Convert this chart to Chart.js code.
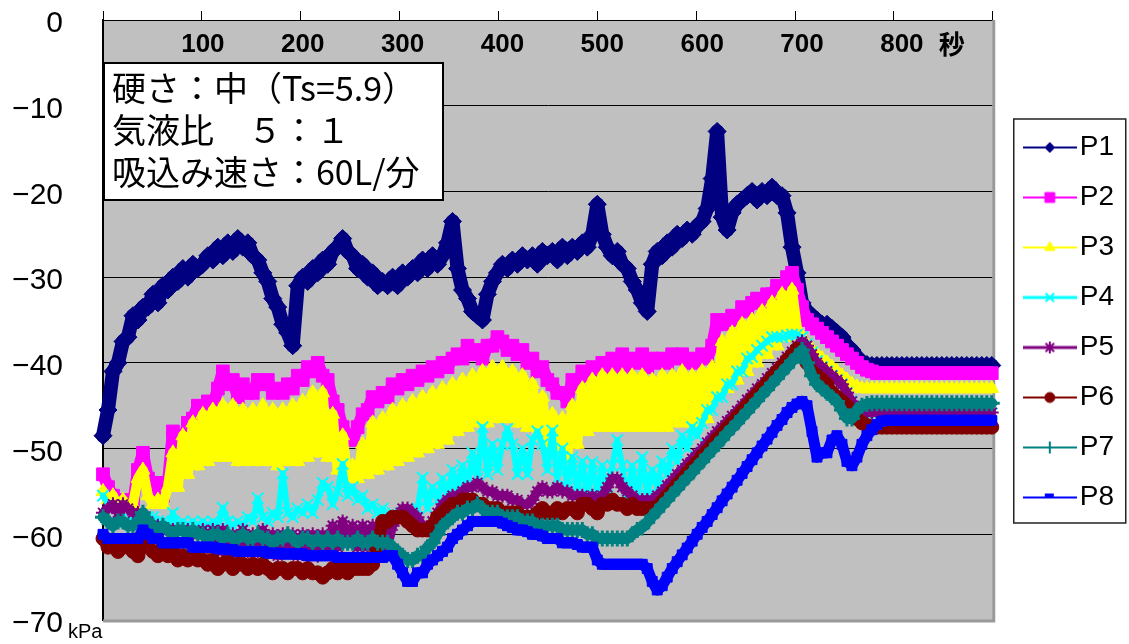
<!DOCTYPE html>
<html>
<head>
<meta charset="utf-8">
<title>吸込み試験 圧力変化</title>
<script src="https://cdn.jsdelivr.net/npm/chart.js"></script>
<style>
    body { margin: 0; background: #fff; }
    #wrap { width: 1129px; height: 644px; }
</style>
</head>
<body>
<div id="wrap"><canvas id="pressureChart" width="1129" height="644"></canvas></div>
<script>
// sample times in seconds (one reading every 5 s)
const secs = [];
for (let t = 0; t <= 890; t += 5) secs.push(t);

// pressures in kPa
const p1 = [
    -48.5, -45.5, -41, -40, -37.5, -37, -34.5, -35, -33.5, -33.5,
    -32, -33, -31, -31.5, -30, -30.5, -29, -30, -28.5, -29,
    -28.5, -27.5, -28, -26.5, -27.5, -26, -27, -25.5, -26.5, -26,
    -27.5, -28, -29.5, -30.5, -32.5, -33.5, -35.5, -36.5, -38, -31,
    -30, -30.5, -29, -29.5, -28, -28.5, -27, -26.5, -25.5, -27,
    -27.5, -29, -28.5, -30, -29.5, -31, -30.5, -31, -30, -31,
    -29.5, -30, -29, -29.5, -28, -29, -27.5, -28.5, -27.5, -26,
    -23.5, -29, -31.5, -32.5, -34, -34.5, -35, -32, -30.5, -29.5,
    -28.5, -29, -28, -28.5, -27.5, -28, -27.5, -28.5, -27, -27.5,
    -27, -28, -26.5, -27.5, -26.5, -27, -26, -26.5, -25, -21.5,
    -25, -26.5, -27.5, -27, -28.5, -29, -30.5, -31.5, -33, -34,
    -28.5, -27, -27.5, -26, -26.5, -25, -25.5, -24.5, -25, -24,
    -23.5, -22, -18.5, -13, -23, -24.5, -22.5, -21.5, -21, -20.5,
    -20, -21, -20, -20.5, -19.5, -20.5, -20.5, -22.5, -26.5, -29.5,
    -33, -34, -34.5, -35, -35.5, -35.5, -36, -36.5, -37, -38,
    -38.5, -39.3, -39.9, -40.2, -40.3, -40.3, -40.3, -40.3, -40.3, -40.3,
    -40.3, -40.3, -40.3, -40.3, -40.3, -40.3, -40.3, -40.3, -40.3, -40.3,
    -40.3, -40.3, -40.3, -40.3, -40.3, -40.3, -40.3, -40.3, -40.3
];
const p2 = [
    -53, -54.5, -55.5, -56, -57, -56, -56.5, -52.5, -50.5, -53.5,
    -55.5, -54, -55.5, -54, -48, -48.5, -49.5, -47, -46.5, -45,
    -45.5, -44.5, -45, -43, -41, -42.5, -42, -44, -42.5, -43.5,
    -43.5, -42, -42.5, -42, -43.5, -43, -43.5, -42.5, -43, -41.5,
    -42, -40.5, -41, -40, -41.5, -42, -44.5, -45.5, -47.5, -48.5,
    -49, -47.5, -46, -45.5, -44, -44.5, -43.5, -44, -42.5, -43,
    -42, -42.5, -41.5, -42, -41, -41.5, -40.5, -41, -40, -40.5,
    -39.5, -39, -39.5, -38, -39, -38.5, -39.5, -38, -38, -37,
    -37.5, -38.5, -38, -39, -38.5, -40, -39.5, -41, -40.5, -42,
    -42.5, -43.5, -43.5, -44.5, -42, -42.5, -41, -41.5, -40.5, -41,
    -40, -40.5, -39.5, -40.5, -39, -40.5, -39.5, -40, -39, -40.5,
    -39.5, -40, -39.5, -40, -39, -39.5, -39, -40, -39.5, -40,
    -39, -39.5, -38, -35, -35.5, -35, -34.5, -35, -33.5, -34,
    -33, -32.5, -33, -32, -32, -31, -31.5, -30, -29.5, -31.5,
    -33.5, -35, -35.5, -36, -36.5, -37, -37.5, -38, -38.5, -39,
    -39.5, -40, -40.5, -40.8, -41, -41.2, -41.2, -41.2, -41.2, -41.2,
    -41.2, -41.2, -41.2, -41.2, -41.2, -41.2, -41.2, -41.2, -41.2, -41.2,
    -41.2, -41.2, -41.2, -41.2, -41.2, -41.2, -41.2, -41.2, -41.2
];
const p3 = [
    -55, -56, -55.5, -57, -56, -57, -56.5, -53.5, -52.5, -55.5,
    -56.5, -56, -56.5, -54.5, -50.5, -54.5, -48.5, -53, -47, -52,
    -46, -51.5, -45.5, -51, -45, -51, -45, -51.5, -45.5, -51.5,
    -45.5, -51.5, -45, -51.5, -45.5, -52, -45.5, -51.5, -45, -51.5,
    -44.5, -51, -43.5, -50.5, -43.5, -51, -46, -52.5, -48.5, -53.5,
    -52, -53.5, -49.5, -53, -47, -52.5, -46.5, -52, -45.5, -51.5,
    -45, -51, -44.5, -50.5, -44, -50, -43.5, -49.5, -43, -49,
    -42.5, -48, -42, -47.5, -41.5, -47, -41, -47, -40.5, -46.5,
    -40.5, -46.5, -41, -47, -41.5, -47.5, -42.5, -48.5, -44, -49.5,
    -46, -50.5, -46.5, -51, -45, -49.5, -43, -48, -42, -47.5,
    -41.5, -47.5, -41.5, -47.5, -41.5, -47.5, -41.5, -47.5, -41.5, -47.5,
    -42, -47.5, -41.5, -47.5, -41.5, -47, -41, -47, -41.5, -47,
    -41, -46.5, -40.5, -43.5, -37.5, -43, -36.5, -42, -35.5, -41,
    -35, -40, -34, -39, -33, -38, -32, -37, -31.5, -36,
    -37, -38, -38.5, -39, -39.5, -40, -40.5, -41, -41.5, -42,
    -42.5, -42.8, -43, -43, -43, -43, -43, -43, -43, -43,
    -43, -43, -43, -43, -43, -43, -43, -43, -43, -43,
    -43, -43, -43, -43, -43, -43, -43, -43, -43
];
const p4 = [
    -55.5, -56.5, -57, -57.5, -58, -58.5, -58, -58.5, -58, -58,
    -58, -58.5, -58.5, -59, -57.5, -59, -58.5, -59, -58.5, -59,
    -58.5, -59, -58.5, -59, -56.9, -58.5, -59, -58.5, -59, -58,
    -58.5, -55.8, -58, -58.5, -57.5, -58, -52.9, -57.5, -58, -57,
    -57.5, -56.5, -57.5, -56, -54, -54.5, -56.5, -55, -51.8, -55.5,
    -54.5, -56, -55.5, -57, -56.5, -57.5, -57, -58, -57.5, -58,
    -57.5, -58, -57.5, -57, -53.4, -57, -54.5, -56, -53.5, -55.5,
    -52.5, -55, -52, -54.5, -50.5, -53.5, -47.5, -53, -49.5, -52.5,
    -49.5, -47.7, -49.5, -53, -50, -53, -49, -48, -49.5, -52.5,
    -47.9, -53.5, -50, -54.5, -51, -55, -51.5, -55.5, -51.6, -55.5,
    -52, -55.5, -52, -49, -52, -56, -52, -56, -51, -55.5,
    -52.5, -54.5, -51.5, -53, -50, -51.5, -48.5, -50, -47.5, -48.5,
    -47, -45.5, -45.5, -44, -44, -42.5, -42.5, -41, -41, -39.5,
    -39.3, -38.5, -38, -37.5, -37, -37, -37, -36.8, -36.7, -36.7,
    -37, -37.8, -38.8, -39.8, -40.5, -41, -41.5, -42, -42.5, -43.5,
    -44.5, -45.3, -45.8, -45.9, -45.9, -45.9, -45.9, -45.9, -45.9, -45.9,
    -45.9, -45.9, -45.9, -45.9, -45.9, -45.9, -45.9, -45.9, -45.9, -45.9,
    -45.9, -45.9, -45.9, -45.9, -45.9, -45.9, -45.9, -45.9, -45.9
];
const p5 = [
    -57.5, -57, -56.5, -57.5, -56.5, -57, -57.5, -57.5, -58, -58.5,
    -59, -59, -59.5, -59.5, -59.5, -59.5, -59.5, -59.5, -60, -60,
    -59.5, -61.5, -59.5, -62, -59.5, -61.5, -60, -62, -59.5, -62,
    -60, -62, -59.5, -62, -60, -62.5, -60, -62, -60, -62.5,
    -60, -62.5, -60, -62.5, -60, -62, -59, -61.5, -58.5, -61,
    -59, -61.5, -59, -61.5, -59, -61.5, -59.5, -61.5, -59, -58,
    -57, -57, -57.5, -58, -59, -59.5, -58.5, -57.5, -56.5, -56,
    -55.5, -55.5, -55, -54.5, -54.5, -54, -54.5, -55, -55, -55.5,
    -55.5, -55.5, -56, -56, -56.5, -56.5, -56, -55, -54.5, -55,
    -55, -54.5, -55, -55, -55.5, -55.5, -55.5, -56, -55.5, -56,
    -55.5, -54.5, -53.5, -53.5, -54.5, -55, -55.5, -56, -56, -56,
    -56, -55.5, -55, -54.3, -53.7, -53, -52.5, -51.8, -51.2, -50.6,
    -50, -49.3, -48.7, -48, -47.5, -46.8, -46.2, -45.6, -45, -44.3,
    -43.7, -43, -42.5, -41.8, -41.2, -40.6, -40, -39.3, -38.7, -38,
    -37.5, -38, -39, -40, -40.5, -41, -41.5, -42, -42.5, -43.5,
    -44.5, -45.3, -45.7, -45.8, -45.8, -45.8, -45.8, -45.8, -45.8, -45.8,
    -45.8, -45.8, -45.8, -45.8, -45.8, -45.8, -45.8, -45.8, -45.8, -45.8,
    -45.8, -45.8, -45.8, -45.8, -45.8, -45.8, -45.8, -45.8, -45.8
];
const p6 = [
    -60.5, -61.5, -61, -62, -61.5, -61, -62, -62.5, -61, -61.5,
    -62, -62.5, -61.5, -62.5, -62, -63, -62.5, -63, -62.5, -63,
    -63, -63.5, -63, -64, -63.5, -63, -64, -63.5, -63.5, -64,
    -63.5, -64, -63.5, -64, -64.5, -64, -64, -64.5, -64, -64,
    -64.5, -64, -64.5, -64.5, -65, -64.5, -64, -64.5, -64, -64.5,
    -64, -64, -64, -64, -63.5, -61, -58.5, -58.5, -58, -58,
    -58, -58.5, -59, -59.5, -59.5, -59.5, -59, -58, -57.5, -57,
    -56.5, -56.5, -56, -56, -56, -56.5, -56.5, -57, -57, -57,
    -57.5, -57.5, -57.5, -57.5, -58, -58, -58, -57.5, -57, -57.5,
    -57.5, -57, -57.5, -57, -57, -57.5, -56.5, -56.5, -57, -57.5,
    -56.5, -56.5, -56, -56.5, -56.5, -57, -56.5, -57, -57, -57,
    -57, -56.8, -56.2, -55.5, -54.9, -54.2, -53.6, -52.9, -52.2, -51.6,
    -50.9, -50.3, -49.6, -48.9, -48.3, -47.6, -47, -46.3, -45.7, -45,
    -44.3, -43.7, -43, -42.4, -41.7, -41, -40.4, -39.7, -39.1, -38.4,
    -39, -40, -41, -41.5, -42, -42.5, -43.5, -44, -44.5, -45,
    -46, -46.5, -47, -47.3, -47.5, -47.5, -47.5, -47.5, -47.5, -47.5,
    -47.5, -47.5, -47.5, -47.5, -47.5, -47.5, -47.5, -47.5, -47.5, -47.5,
    -47.5, -47.5, -47.5, -47.5, -47.5, -47.5, -47.5, -47.5, -47.5
];
const p7 = [
    -58, -58.5, -59, -58.5, -58.5, -59, -59, -58.5, -57.5, -58.5,
    -59, -59.5, -59, -59.5, -60, -59.5, -59.5, -60, -59.5, -60,
    -60, -60.5, -60, -60, -60.5, -60, -60.5, -60.5, -60, -60.5,
    -60.5, -60, -60.5, -60.5, -61, -60.5, -60.5, -60, -60.5, -61,
    -60.5, -60.5, -61, -60.5, -61, -60.5, -61, -60.5, -61, -61,
    -61, -60.5, -61, -61, -60.5, -61, -61, -61, -61.5, -62,
    -62.5, -63, -63, -62.5, -62.5, -61.5, -61, -60, -59, -58.5,
    -58, -57.5, -57.5, -57, -57, -56.5, -57, -57.5, -57.5, -57.5,
    -58, -58, -58, -58, -58.5, -58.5, -58.5, -59, -59, -59,
    -59, -59, -59.5, -59.5, -59.5, -59.5, -59.5, -60, -60, -60.5,
    -60.5, -60.5, -60.5, -60.5, -60.5, -60.5, -60, -59.5, -59.2, -58.6,
    -57.9, -57.3, -56.6, -56, -55.3, -54.7, -54, -53.4, -52.8, -52.1,
    -51.5, -50.8, -50.2, -49.5, -48.9, -48.2, -47.6, -47, -46.3, -45.7,
    -45, -44.4, -43.7, -43.1, -42.4, -41.8, -41.1, -40.5, -39.8, -39.2,
    -38.5, -40, -41.5, -42.5, -43, -43.5, -44, -44.5, -45.5, -46.5,
    -46.5, -45.5, -45, -44.8, -44.7, -44.7, -44.7, -44.7, -44.7, -44.7,
    -44.7, -44.7, -44.7, -44.7, -44.7, -44.7, -44.7, -44.7, -44.7, -44.7,
    -44.7, -44.7, -44.7, -44.7, -44.7, -44.7, -44.7, -44.7, -44.7
];
const p8 = [
    -60, -60.5, -60.5, -60.5, -60.5, -60.5, -60.5, -60.5, -59.5, -60,
    -60.5, -60.5, -61, -61, -61, -61, -61, -61, -61.5, -61.5,
    -61.5, -61.5, -61.5, -61.7, -61.7, -61.8, -61.8, -62, -62, -62,
    -62, -62, -62, -62.2, -62.2, -62.2, -62.3, -62.3, -62.3, -62.3,
    -62.3, -62.5, -62.5, -62.5, -62.5, -62.5, -62.5, -62.7, -62.7, -62.7,
    -62.7, -62.7, -62.7, -62.7, -62.7, -62.7, -62.7, -62.5, -62.5, -63.5,
    -64.5, -65.5, -65.5, -64.5, -64.5, -63.5, -63, -62.5, -62, -61.5,
    -60.5, -60, -59.5, -59, -58.5, -58.5, -58.5, -58.5, -58.5, -58.5,
    -58.7, -59, -59.2, -59.5, -59.5, -59.7, -60, -60, -60.2, -60.5,
    -60.5, -60.5, -61, -61, -61, -61.2, -61.5, -61.5, -61.5, -63,
    -63.5, -63.5, -63.5, -63.5, -63.5, -63.5, -63.5, -63.5, -63.5, -64,
    -65.5, -66.5, -66, -65, -64, -63.2, -62.4, -61.6, -60.8, -60,
    -59.2, -58.5, -57.7, -56.9, -56.1, -55.3, -54.5, -53.7, -52.9, -52.1,
    -51.3, -50.5, -49.7, -48.9, -48.1, -47.3, -46.6, -45.8, -45.2, -44.8,
    -44.5, -45, -48, -51, -50.5, -50.5, -49, -48.5, -49.5, -51.5,
    -52, -51, -49.5, -48.5, -47.8, -47.2, -46.8, -46.7, -46.7, -46.7,
    -46.7, -46.7, -46.7, -46.7, -46.7, -46.7, -46.7, -46.7, -46.7, -46.7,
    -46.7, -46.7, -46.7, -46.7, -46.7, -46.7, -46.7, -46.7, -46.7
];

const seriesNames = ['P1', 'P2', 'P3', 'P4', 'P5', 'P6', 'P7', 'P8'];
const seriesValues = [p1, p2, p3, p4, p5, p6, p7, p8];
const xTickLabels = [100, 200, 300, 400, 500, 600, 700, 800];
const yTickValues = [0, -10, -20, -30, -40, -50, -60, -70];

// Excel-like colours and marker styles
const colors = ['#000080', '#ff00ff', '#ffff00', '#00ffff', '#800080', '#800000', '#008080', '#0000ff'];
const markers = [
    { style: 'rectRot', r: 9, bw: 1, lw: 14, lr: 5, lbw: 1 },
    { style: 'rect', r: 9, bw: 1, lw: 12, lr: 7, lbw: 1 },
    { style: 'triangle', r: 8, bw: 1, lw: 10, lr: 6, lbw: 1 },
    { style: 'crossRot', r: 8, bw: 2, lw: 6, lr: 6, lbw: 2 },
    { style: 'star', r: 7, bw: 2, lw: 9, lr: 6, lbw: 2 },
    { style: 'circle', r: 7, bw: 1, lw: 12, lr: 5, lbw: 1 },
    { style: 'cross', r: 8, bw: 3, lw: 11, lr: 6, lbw: 2 },
    { style: 'rect', r: 7, bw: 1, lw: 11, lr: 0, lbw: 1 }
];

// little line+marker pictures for the legend
function legendIcon(i) {
    const c = document.createElement('canvas');
    c.width = 54; c.height = 24;
    const g = c.getContext('2d');
    g.strokeStyle = colors[i];
    g.fillStyle = colors[i];
    g.lineWidth = (i === 3 || i === 4) ? 3 : 2;
    g.beginPath(); g.moveTo(0, 12); g.lineTo(54, 12); g.stroke();
    if (i === 7) {
        g.fillRect(22, 8, 9, 4);
    } else {
        g.lineWidth = markers[i].lbw;
        Chart.helpers.drawPoint(g, { pointStyle: markers[i].style, radius: markers[i].lr, borderWidth: markers[i].lbw, rotation: 0 }, 27, 12);
    }
    return c;
}

const datasets = seriesNames.map((name, i) => ({
    label: name,
    data: secs.map((s, k) => ({ x: s, y: seriesValues[i][k] })),
    borderColor: colors[i],
    backgroundColor: colors[i],
    borderWidth: markers[i].lw,
    borderJoinStyle: 'round',
    borderCapStyle: 'round',
    pointStyle: markers[i].style,
    pointRadius: markers[i].r,
    pointBorderWidth: markers[i].bw,
    pointBackgroundColor: colors[i],
    pointBorderColor: colors[i],
    tension: 0,
    clip: false,
    order: 8 - i   // later series painted on top, as in the original
}));

const decor = {
    id: 'decor',
    beforeDraw(chart) {
        const { ctx, chartArea: a } = chart;
        ctx.save();
        ctx.fillStyle = '#ffffff';
        ctx.fillRect(0, 0, chart.width, chart.height);
        ctx.fillStyle = '#c0c0c0';
        ctx.fillRect(a.left, a.top, a.right - a.left, a.bottom - a.top);
        ctx.restore();
    },
    beforeDatasetsDraw(chart) {
        const { ctx, chartArea: a } = chart;
        ctx.save();
        ctx.strokeStyle = '#999999';
        ctx.lineWidth = 3;
        ctx.beginPath();
        ctx.moveTo(a.left, a.bottom + 1);
        ctx.lineTo(a.right + 1, a.bottom + 1);
        ctx.lineTo(a.right + 1, a.top);
        ctx.stroke();
        // time labels sit inside the plot, just under the top tick marks
        const xs = chart.scales.x;
        ctx.fillStyle = '#000';
        ctx.font = 'bold 26px "Liberation Sans"';
        ctx.textAlign = 'center';
        ctx.textBaseline = 'middle';
        xTickLabels.forEach(v => {
            ctx.fillText(String(v), xs.getPixelForValue(v), a.top + 25);
        });
        ctx.font = 'bold 26px "Noto Sans CJK JP"';
        ctx.fillText('秒', xs.getPixelForValue(850), a.top + 24);
        ctx.restore();
    },
    afterLayout(chart) {
        const lg = chart.legend;
        const dx = chart.chartArea.right + 19 - lg.left;
        lg.left += dx; lg.right += dx;
        lg.top += 7; lg.bottom += 7;
    },
    afterDraw(chart) {
        const { ctx, chartArea: a } = chart;
        const lg = chart.legend;
        ctx.save();
        // legend frame
        ctx.strokeStyle = '#222';
        ctx.lineWidth = 1.5;
        ctx.strokeRect(lg.left + 2, a.top + 99, 112, 404);

        // condition box
        ctx.fillStyle = '#fff';
        ctx.fillRect(a.left + 1, 63, 339, 137);
        ctx.strokeStyle = '#000';
        ctx.lineWidth = 2;
        ctx.strokeRect(a.left + 1, 63, 339, 137);
        ctx.fillStyle = '#000';
        ctx.font = '34px "Noto Sans CJK JP"';
        ctx.textBaseline = 'middle';
        ctx.textAlign = 'left';
        ctx.fillText('硬さ：中（Ts=5.9）', 112, 88);
        ctx.fillText('気液比　５：１', 112, 130);
        ctx.fillText('吸込み速さ：60L/分', 112, 172);

        // pressure unit
        ctx.font = '20px "Liberation Sans"';
        ctx.textBaseline = 'alphabetic';
        ctx.fillText('kPa', 68, a.bottom + 18);
        ctx.restore();
    }
};

const chart = new Chart(document.getElementById('pressureChart'), {
    type: 'line',
    data: { datasets },
    options: {
        responsive: false,
        animation: false,
        events: [],
        layout: { padding: { top: 11, left: 0, right: 24, bottom: 24 } },
        scales: {
            x: {
                type: 'linear',
                position: 'top',
                min: 0,
                max: 891,
                afterFit: s => { s.height = 9; },
                border: { color: '#000', width: 1 },
                grid: { drawOnChartArea: false, drawTicks: true, tickLength: 9, color: '#000', tickColor: '#000' },
                ticks: {
                    stepSize: 100,
                    autoSkip: false,
                    maxRotation: 0,
                    callback: () => ''
                }
            },
            y: {
                type: 'linear',
                min: -70,
                max: 0,
                afterFit: s => { s.width = 103; },
                border: { color: '#000', width: 2 },
                grid: {
                    color: c => (c.tick && c.tick.value === -70) ? 'rgba(0,0,0,0)' : '#000',
                    lineWidth: 1,
                    drawTicks: true,
                    tickLength: 40,
                    tickColor: 'rgba(0,0,0,0)'
                },
                afterBuildTicks: s => { s.ticks = yTickValues.map(v => ({ value: v })); },
                ticks: {
                    padding: 0,
                    labelOffset: 4,
                    color: '#000',
                    font: { family: 'Liberation Sans', size: 30 },
                    callback: v => v === 0 ? '0' : '\u2212' + Math.abs(v)
                }
            }
        },
        plugins: {
            tooltip: { enabled: false },
            legend: {
                position: 'right',
                align: 'center',
                onClick: null,
                labels: {
                    usePointStyle: true,
                    pointStyleWidth: 32,
                    padding: 22,
                    color: '#000',
                    font: { family: 'Liberation Sans', size: 28 },
                    generateLabels: ch => ch.data.datasets.map((ds, i) => ({
                        text: ds.label,
                        pointStyle: legendIcon(i),
                        fillStyle: colors[i],
                        strokeStyle: colors[i],
                        fontColor: '#000',
                        lineWidth: 0,
                        hidden: false,
                        datasetIndex: i
                    }))
                }
            }
        }
    },
    plugins: [decor]
});
</script>
</body>
</html>
